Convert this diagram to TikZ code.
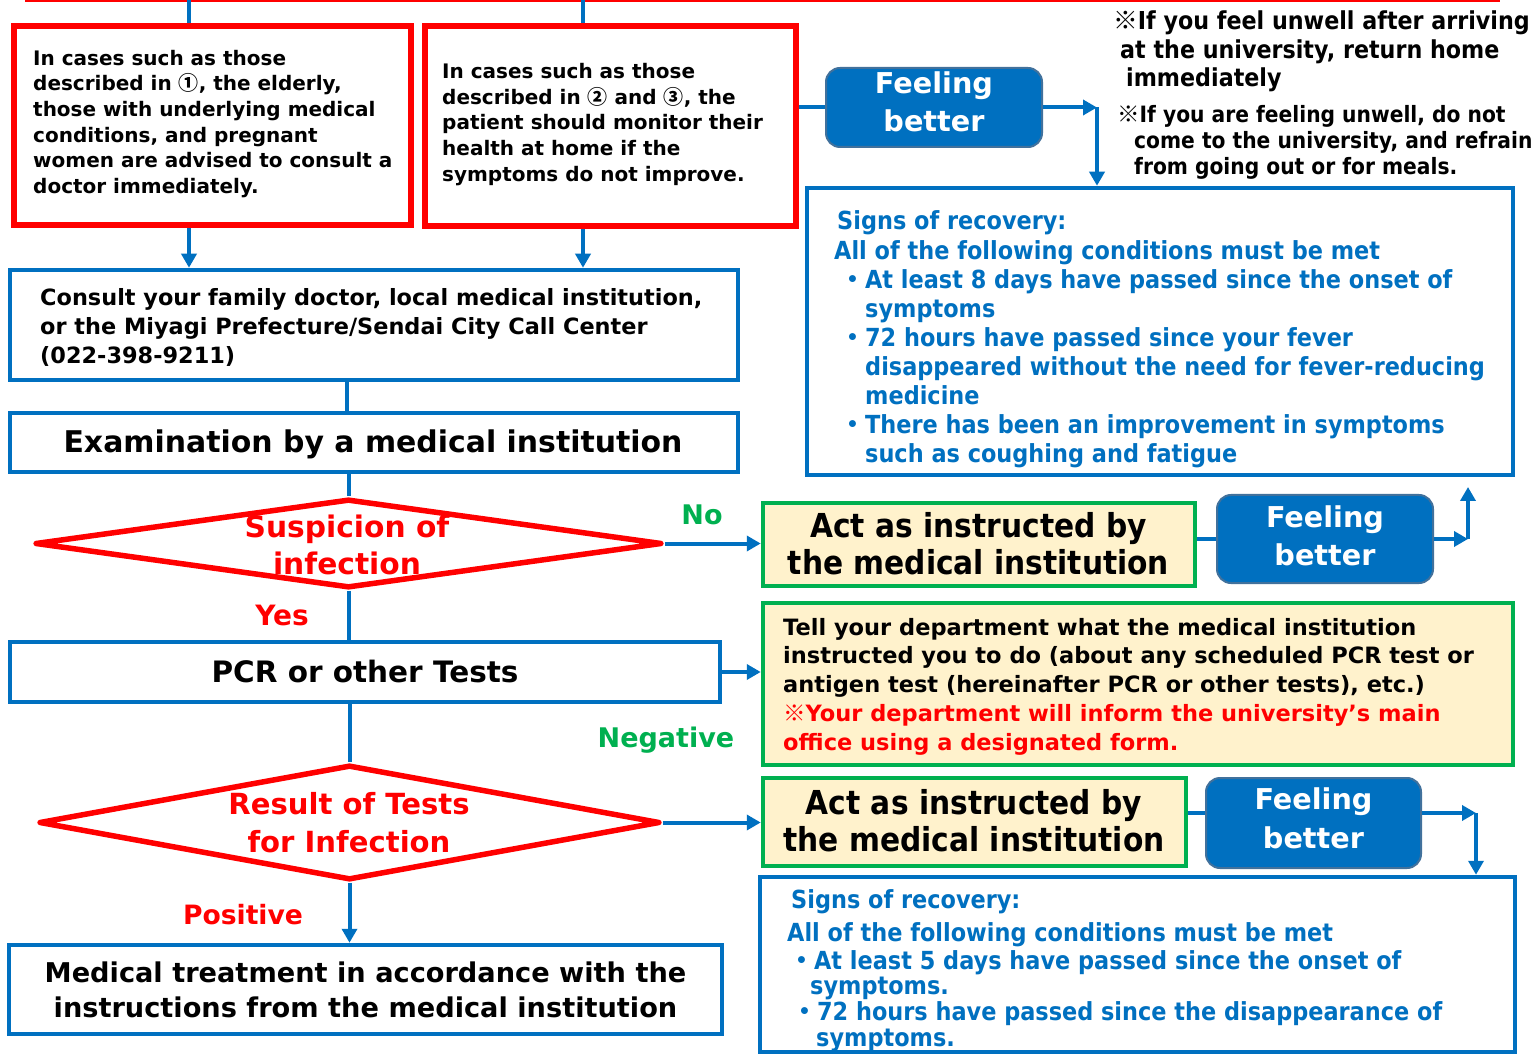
\documentclass[tikz,border=0pt]{standalone}
\usepackage{fontspec}
\setmainfont{DejaVu Sans}
\newfontfamily\condf[FakeStretch=0.9]{DejaVu Sans}
\newfontfamily\cjk{Noto Sans CJK JP}
\usetikzlibrary{arrows.meta,shapes.geometric}
\definecolor{mblue}{HTML}{0070C0}
\definecolor{mred}{HTML}{FF0000}
\definecolor{mgreen}{HTML}{00B050}
\definecolor{cream}{HTML}{FFF2CC}
\definecolor{fbborder}{HTML}{41719C}
\newcommand\fnt[1]{\fontsize{#1pt}{#1pt}\selectfont\bfseries}
\newcommand\cfnt[1]{\condf\fontsize{#1pt}{#1pt}\selectfont\bfseries}
\newcommand\textlines[7]{\foreach \ln [count=\i] in {#7} {\node[anchor=#3, inner sep=0pt, #2] (#1-\i) at (#4, {#5+(\i-1)*#6}) {\ln};}}
\tikzset{
 sz/.style 2 args={minimum width=#1pt, minimum height=#2pt},
 redbox/.style={draw=mred, line width=5.5pt, rectangle, inner sep=0pt},
 bluebox/.style={draw=mblue, line width=4.5pt, rectangle, inner sep=0pt},
 greenbox/.style={draw=mgreen, line width=4.5pt, fill=cream, rectangle, inner sep=0pt},
 fbbox/.style={draw=fbborder, line width=2pt, fill=mblue, rounded corners=14pt, rectangle, inner sep=0pt},
 decision/.style={draw=mred, line width=5.5pt, diamond, inner sep=0pt, line join=round},
 conn/.style={draw=mblue, line width=4pt},
 arr/.style={conn, -{Triangle[length=14pt,width=15pt]}},
}
\begin{document}
\begin{tikzpicture}[x={(1pt,0)}, y={(0,-1pt)}]
\fill[white] (0,0) rectangle (1535,1056);
\useasboundingbox (0,0) rectangle (1535,1056);
% top cut-off box edge
\draw[mred, line width=3pt] (25,1) -- (1500,1);
\coordinate (top1) at (189,0);
\coordinate (top2) at (583,0);
\coordinate (xc) at (347,0);
% boxes
\node[redbox, sz={397}{199}] (box1) at (212.5,125.5) {};
\node[redbox, sz={371}{200}] (box2) at (610.5,126) {};
\node[bluebox, sz={728}{110}] (consult) at (374,325) {};
\node[bluebox, sz={728}{59}] (exam) at (374,442.5) {};
\node[decision, sz={627}{89}] (d1) at (348.5,543.5) {};
\node[bluebox, sz={710}{60}] (pcr) at (365,672) {};
\node[decision, sz={621}{115}] (d2) at (349.5,822.5) {};
\node[bluebox, sz={713}{89}] (med) at (365.5,989.5) {};
\node[greenbox, sz={432}{83}] (act1) at (979,544.5) {};
\node[fbbox, sz={216}{88}] (fb2) at (1325,539) {};
\node[greenbox, sz={750}{162}] (tell) at (1138,684) {};
\node[greenbox, sz={423}{88}] (act2) at (974.5,822) {};
\node[fbbox, sz={215}{90}] (fb3) at (1313.5,823) {};
\node[bluebox, sz={755}{175}] (signs2) at (1137.5,964.5) {};
\node[fbbox, sz={216}{79}] (fb1) at (934,107.5) {};
\node[bluebox, sz={706}{287}] (signs1) at (1160,331.5) {};
% connectors
\draw[conn] (top1) -- (top1 |- box1.north);
\draw[conn] (top2) -- (top2 |- box2.north);
\draw[arr] (box1.south -| top1) -- (consult.north -| top1);
\draw[arr] (box2.south -| top2) -- (consult.north -| top2);
\draw[conn] (consult.south -| xc) -- (exam.north -| xc);
\draw[conn] (exam.south -| d1.north) -- (d1.north);
\draw[arr] (d1.east) -- (d1.east -| act1.west);
\draw[conn] (d1.south) -- (d1.south |- pcr.north);
\draw[arr] (pcr.east) -- (pcr.east -| tell.west);
\draw[conn] (d2.north |- pcr.south) -- (d2.north);
\draw[arr] (d2.east) -- (d2.east -| act2.west);
\draw[arr] (d2.south) -- (d2.south |- med.north);
\draw[conn] (fb1.west -| box2.east) -- (fb1.west);
\coordinate (r1) at (1097,107.5);
\draw[arr] (fb1.east) -- (r1);
\draw[arr] (r1) -- (r1 |- signs1.north);
\draw[conn] (act1.east |- fb2.west) -- (fb2.west);
\coordinate (r2) at (1468,539);
\coordinate (r2t) at (1468,487);
\draw[arr] (fb2.east) -- (r2);
\draw[arr] (r2) -- (r2t);
\coordinate (r3) at (1476,813);
\draw[conn] (act2.east |- r3) -- (fb3.west |- r3);
\draw[arr] (fb3.east |- r3) -- (r3);
\draw[arr] (r3) -- (r3 |- signs2.north);
% texts
\textlines{t1}{font=\fnt{20}}{base west}{33}{65.4}{25.6}{{In cases such as those},{described in {\cjk ①}, the elderly,},{those with underlying medical},{conditions, and pregnant},{women are advised to consult a},{doctor immediately.}}
\textlines{t2}{font=\fnt{20}}{base west}{442}{78.4}{25.75}{{In cases such as those},{described in {\cjk ②} and {\cjk ③}, the},{patient should monitor their},{health at home if the},{symptoms do not improve.}}
\textlines{n1}{font=\cfnt{24.7}}{base west}{1113}{30}{28.5}{{{\cjk ※}If you feel unwell after arriving},{\hspace*{7pt}at the university, return home},{\hspace*{13pt}immediately}}
\textlines{n2}{font=\cfnt{22.5}}{base west}{1117}{122.2}{26}{{{\cjk ※}If you are feeling unwell, do not},{\hspace*{17pt}come to the university, and refrain},{\hspace*{17pt}from going out or for meals.}}
\textlines{tc}{font=\fnt{22.4}}{base west}{40}{305.2}{29}{{Consult your family doctor, local medical institution,},{or the Miyagi Prefecture/Sendai City Call Center},{(022-398-9211)}}
\textlines{te}{font=\fnt{29.9}}{base}{373}{452.6}{0}{{Examination by a medical institution}}
\textlines{s1}{font=\cfnt{24.9}, text=mblue}{base west}{834}{230}{29.1}{{\hspace*{3pt}Signs of recovery:},{All of the following conditions must be met},{\hspace*{6pt}{\cjk ・}At least 8 days have passed since the onset of},{\hspace*{31pt}symptoms},{\hspace*{6pt}{\cjk ・}72 hours have passed since your fever},{\hspace*{31pt}disappeared without the need for fever-reducing},{\hspace*{31pt}medicine},{\hspace*{6pt}{\cjk ・}There has been an improvement in symptoms},{\hspace*{31pt}such as coughing and fatigue}}
\textlines{d1t}{font=\fnt{29.7}, text=mred}{base}{347}{537}{37}{{Suspicion of},{infection}}
\textlines{no}{font=\fnt{27}, text=mgreen}{base}{702}{525}{0}{{No}}
\textlines{yes}{font=\fnt{28}, text=mred}{base}{282}{625}{0}{{Yes}}
\textlines{ta1}{font=\cfnt{33}}{base}{978.5}{537.5}{36.5}{{Act as instructed by},{the medical institution}}
\textlines{tf2}{font=\fnt{28.7}, text=white}{base}{1325}{527.5}{38}{{Feeling},{better}}
\textlines{tp}{font=\fnt{29.5}}{base}{365}{682.5}{0}{{PCR or other Tests}}
\textlines{tt}{font=\fnt{22.5}}{base west}{783}{635.2}{28.75}{{Tell your department what the medical institution},{instructed you to do (about any scheduled PCR test or},{antigen test (hereinafter PCR or other tests), etc.)},{\color{mred}{\cjk ※}Your department will inform the university’s main},{\color{mred}office using a designated form.}}
\textlines{neg}{font=\fnt{27}, text=mgreen}{base}{666}{747}{0}{{Negative}}
\textlines{d2t}{font=\fnt{29.1}, text=mred}{base}{349}{814}{38.5}{{Result of Tests},{for Infection}}
\textlines{pos}{font=\fnt{26.6}, text=mred}{base}{243}{924}{0}{{Positive}}
\textlines{tm}{font=\fnt{27.2}}{base}{365.5}{982}{35}{{Medical treatment in accordance with the},{instructions from the medical institution}}
\textlines{ta2}{font=\cfnt{33}}{base}{974}{814.5}{37}{{Act as instructed by},{the medical institution}}
\textlines{tf3}{font=\fnt{28.7}, text=white}{base}{1313.5}{809.5}{38.5}{{Feeling},{better}}
\textlines{tf1}{font=\fnt{28.7}, text=white}{base}{934}{94}{38}{{Feeling},{better}}
\textlines{s2a}{font=\cfnt{24.9}, text=mblue}{base west}{787}{908}{33}{{\hspace*{4pt}Signs of recovery:},{All of the following conditions must be met}}
\textlines{s2b}{font=\cfnt{24.9}, text=mblue}{base west}{789}{969}{25.7}{{{\cjk ・}At least 5 days have passed since the onset of},{\hspace*{21pt}symptoms.},{\hspace*{3pt}{\cjk ・}72 hours have passed since the disappearance of},{\hspace*{27pt}symptoms.}}
\end{tikzpicture}
\end{document}
